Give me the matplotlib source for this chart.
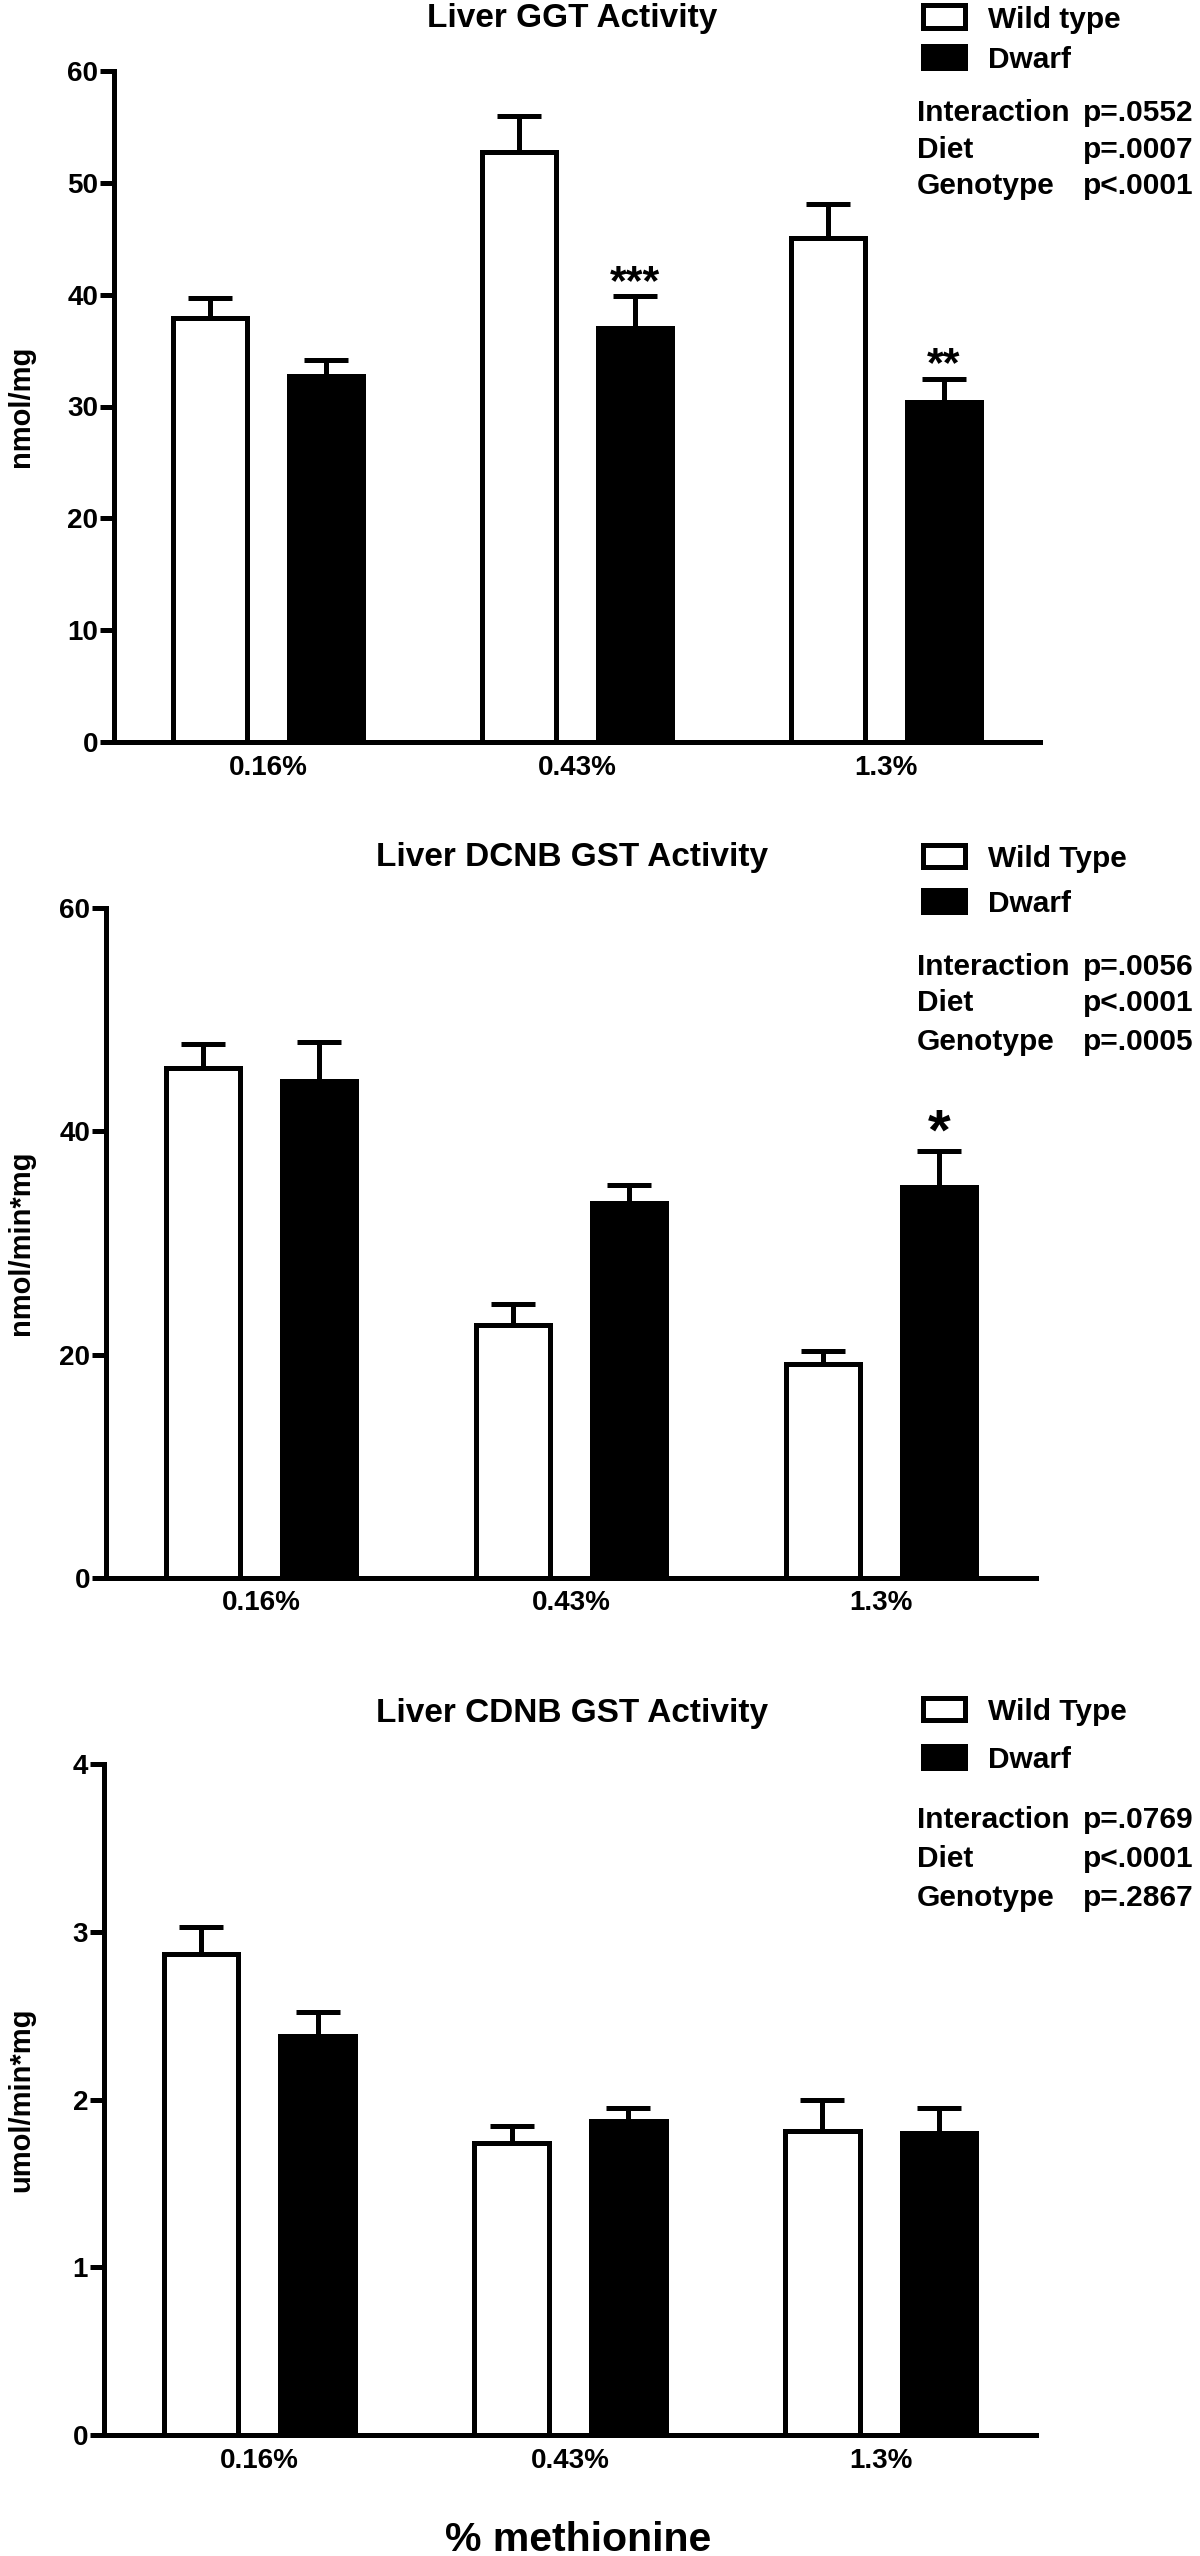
import numpy as np
import matplotlib
matplotlib.use("Agg")
import matplotlib.pyplot as plt
from matplotlib.patches import Rectangle

# data (mean and upper SEM)
groups = ["0.16%", "0.43%", "1.3%"]

ggt_wt = [37.9, 52.8, 45.1]
ggt_wt_sem = [1.8, 3.2, 3.0]
ggt_dw = [32.7, 37.0, 30.4]
ggt_dw_sem = [1.5, 2.9, 2.1]
ggt_stars = ["", "***", "**"]
ggt_stats = [("Interaction", "p=.0552"), ("Diet", "p=.0007"), ("Genotype", "p<.0001")]

dcnb_wt = [45.7, 22.7, 19.2]
dcnb_wt_sem = [2.1, 1.8, 1.1]
dcnb_dw = [44.5, 33.6, 35.0]
dcnb_dw_sem = [3.5, 1.6, 3.2]
dcnb_stars = ["", "", "*"]
dcnb_stats = [("Interaction", "p=.0056"), ("Diet", "p<.0001"), ("Genotype", "p=.0005")]

cdnb_wt = [2.87, 1.74, 1.81]
cdnb_wt_sem = [0.16, 0.10, 0.19]
cdnb_dw = [2.38, 1.87, 1.80]
cdnb_dw_sem = [0.14, 0.08, 0.15]
cdnb_stars = ["", "", ""]
cdnb_stats = [("Interaction", "p=.0769"), ("Diet", "p<.0001"), ("Genotype", "p=.2867")]

plt.rcParams["font.family"] = ["Liberation Sans", "DejaVu Sans"]
plt.rcParams["font.weight"] = "bold"

W, H = 1200, 2556
LW = 3.6
fig = plt.figure(figsize=(12, 25.56), dpi=100)


def fx(px):
    return px / W


def fy(py):
    return 1 - py / H


def draw_panel(box, wt, wt_sem, dw, dw_sem, stars, star_size, stats, title, ylabel,
               yticks, legend_labels, title_base, legend_y, stats_y):
    left, top, right, bottom = box
    ax = fig.add_axes([fx(left), fy(bottom), fx(right - left), fy(top) - fy(bottom)])
    x = np.arange(len(groups))
    off, bw = 0.1875, 0.24
    ax.bar(x - off, wt, bw, color="white", edgecolor="black", linewidth=LW, zorder=2)
    ax.bar(x + off, dw, bw, color="black", edgecolor="black", linewidth=LW, zorder=2)
    for xs, m, s in ((x - off, wt, wt_sem), (x + off, dw, dw_sem)):
        ax.errorbar(xs, m, yerr=[np.zeros(len(s)), s], fmt="none", ecolor="black",
                    elinewidth=LW, capsize=16, capthick=LW, zorder=1)
    for xi, m, s, st in zip(x + off, dw, dw_sem, stars):
        if st:
            ax.annotate(st, (xi, m + s), xytext=(0, 1.5), textcoords="offset points",
                        ha="center", va="baseline", fontsize=star_size, fontweight="bold")
    ax.set_xlim(-0.5, 2.5)
    ax.set_ylim(0, yticks[-1])
    ax.set_yticks(yticks)
    ax.set_xticks(x)
    ax.set_xticklabels(groups)
    for sp in ("top", "right"):
        ax.spines[sp].set_visible(False)
    for sp in ("left", "bottom"):
        ax.spines[sp].set_linewidth(LW)
    ax.tick_params(axis="y", length=10, width=LW, pad=1.5, labelsize=20)
    ax.tick_params(axis="x", length=0, pad=9, labelsize=20)

    fig.text(fx(21), fy((top + bottom) / 2), ylabel, rotation=90, ha="center", va="center",
             fontsize=21, fontweight="bold")
    fig.text(fx(572), fy(title_base), title, ha="center", va="baseline",
             fontsize=24, fontweight="bold")

    # legend: open box = wild type, filled box = dwarf
    for (yc, face), lab in zip(zip(legend_y, ["white", "black"]), legend_labels):
        fig.patches.append(Rectangle((fx(922.5), fy(yc + 11)), fx(42), fy(yc - 11) - fy(yc + 11),
                                     facecolor=face, edgecolor="black", linewidth=LW,
                                     transform=fig.transFigure, figure=fig))
        fig.text(fx(988), fy(yc + 3), lab, ha="left", va="center", fontsize=21.5,
                 fontweight="bold")
    for (name, p), yy in zip(stats, stats_y):
        fig.text(fx(917), fy(yy + 3), name, ha="left", va="center", fontsize=21.5,
                 fontweight="bold")
        fig.text(fx(1083), fy(yy + 3), p, ha="left", va="center", fontsize=21.5,
                 fontweight="bold")
    return ax


draw_panel((114, 71, 1040, 742), ggt_wt, ggt_wt_sem, ggt_dw, ggt_dw_sem, ggt_stars, 31,
           ggt_stats, "Liver GGT Activity", "nmol/mg", [0, 10, 20, 30, 40, 50, 60],
           ["Wild type", "Dwarf"], 27, [16.5, 57], [110, 147, 183])

draw_panel((106, 908, 1036, 1578), dcnb_wt, dcnb_wt_sem, dcnb_dw, dcnb_dw_sem, dcnb_stars, 42,
           dcnb_stats, "Liver DCNB GST Activity", "nmol/min*mg", [0, 20, 40, 60],
           ["Wild Type", "Dwarf"], 866, [856, 901], [964, 1000, 1039])

draw_panel((104, 1764, 1036, 2435), cdnb_wt, cdnb_wt_sem, cdnb_dw, cdnb_dw_sem, cdnb_stars, 31,
           cdnb_stats, "Liver CDNB GST Activity", "umol/min*mg", [0, 1, 2, 3, 4],
           ["Wild Type", "Dwarf"], 1722, [1709, 1757], [1817, 1856, 1895])

fig.text(fx(578), fy(2540), "% methionine", ha="center", va="center", fontsize=29.5,
         fontweight="bold")

fig.savefig("out.png", dpi=100)
